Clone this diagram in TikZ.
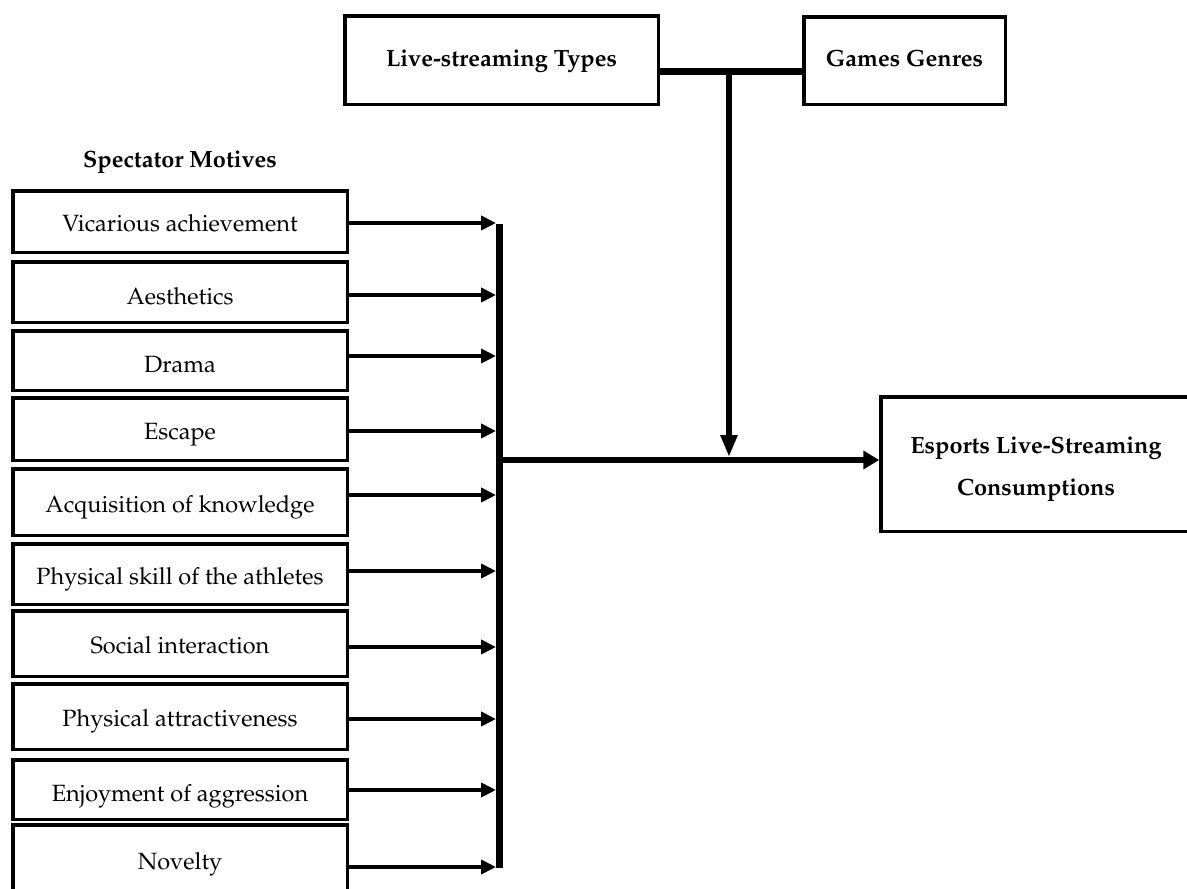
\documentclass[tikz,border=0pt]{standalone}
\usepackage[T1]{fontenc}
\usepackage{mathpazo}
\usetikzlibrary{arrows.meta}
\tikzset{
  box/.style={draw, line width=3.5pt, inner sep=0pt, align=center,
    font=\fontsize{23.5}{28}\selectfont, text height=20pt, text depth=0pt},
  motive/.style={box, minimum width=334.5pt},
  lower/.style={text height=24pt},
  hbox/.style={box, font=\fontsize{23.5}{42}\selectfont\bfseries, text height=17pt, text depth=5pt},
  small arrow/.style={line width=4pt, -{Triangle[length=15pt,width=14pt]}},
  thick bar/.style={line width=7pt},
  big arrow/.style={line width=6.5pt, -{Triangle[length=16pt,width=18pt]}},
  down arrow/.style={line width=6pt, -{Triangle[length=22pt,width=16pt]}}
}
\begin{document}
\begin{tikzpicture}[x=1pt,y=-1pt]
\useasboundingbox[fill=white] (0,0) rectangle (1187,889);
% top boxes
\node[hbox, minimum width=313.5pt, minimum height=88.5pt] (live) at (501.5,60) {Live-streaming Types};
\node[hbox, minimum width=201.5pt, minimum height=87.5pt] (games) at (904.5,60.5) {Games Genres};
% outcome
\node[hbox, minimum width=310pt, minimum height=134.5pt, text height=, text depth=] (out) at (1036,464) {\rule{0pt}{27pt}Esports Live-Streaming\\Consumptions};
% title
\node[font=\fontsize{23.5}{28}\selectfont\bfseries, inner sep=0pt] (title) at (180,162) {Spectator Motives};
% motives
\node[motive, minimum height=61.5pt] (m1) at (180,221.5) {Vicarious achievement};
\node[motive, lower, minimum height=60.5pt] (m2) at (180,292) {Aesthetics};
\node[motive, lower, minimum height=59.5pt] (m3) at (180,360.5) {Drama};
\node[motive, minimum height=62.5pt] (m4) at (180,429) {Escape};
\node[motive, minimum height=66.5pt] (m5) at (180,502) {Acquisition of knowledge};
\node[motive, minimum height=60.5pt] (m6) at (180,574) {Physical skill of the athletes};
\node[motive, minimum height=65.5pt] (m7) at (180,643.5) {Social interaction};
\node[motive, minimum height=65.5pt] (m8) at (180,716.5) {Physical attractiveness};
\node[motive, lower, minimum height=59.5pt] (m9) at (180,789.5) {Enjoyment of aggression};
\node[motive, minimum height=68.5pt] (m10) at (180,859) {Novelty};
% bar coordinates
\coordinate (bartop) at (499.5,224);
\coordinate (barbot) at (499.5,868);
\coordinate (bm) at (499.5,460);
\coordinate (j) at (729,460);
\coordinate (t) at (729,71);
\foreach \i/\y in {1/223,2/295,3/356,4/431,5/495,6/571,7/647,8/719,9/790,10/867}{
  \coordinate (b\i) at (496,\y);
  \draw[small arrow] (m\i.east |- b\i) -- (b\i);
}
\draw[thick bar] (bartop) -- (barbot);
% top connector
\draw[thick bar] (live.east |- t) -- (games.west |- t);
\draw[down arrow, shorten >=3pt] (t) -- (j);
% main arrow
\draw[big arrow] (bm) -- (out.west |- bm);
\end{tikzpicture}
\end{document}
